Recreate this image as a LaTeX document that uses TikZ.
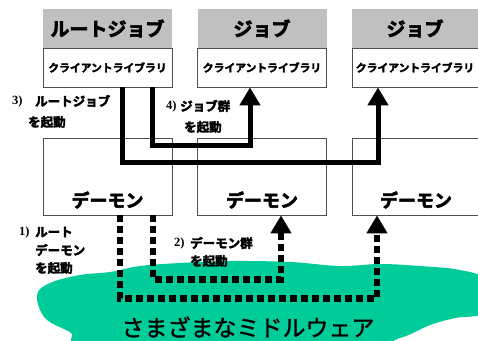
\documentclass[tikz,border=0pt]{standalone}
\usepackage{fontspec}
\setmainfont{Liberation Serif}
\newfontfamily\jp{Noto Sans CJK JP}[FakeBold=1.2]
\newfontfamily\jpk{Noto Sans CJK JP Bold}[FakeBold=3]
\usetikzlibrary{arrows.meta}
\definecolor{mw}{RGB}{0,204,153}
\definecolor{hdr}{RGB}{192,192,192}
\definecolor{bord}{RGB}{80,80,80}
\begin{document}
\begin{tikzpicture}[x=1pt,y=-1pt,
 hdrbox/.style={fill=hdr, minimum width=129pt, minimum height=39pt, inner sep=0pt, font=\jpk\fontsize{19}{19}\selectfont},
 libbox/.style={draw=bord, line width=0.8pt, fill=white, minimum width=129pt, minimum height=39pt, inner sep=0pt, font=\jpk\fontsize{10.8}{11}\selectfont},
 dmbox/.style={draw=bord, line width=0.8pt, fill=white, minimum width=129pt, minimum height=77pt, inner sep=0pt},
 dmtext/.style={font=\jpk\fontsize{18}{18}\selectfont, inner sep=0pt},
 lbl/.style={font=\jpk\fontsize{12.5}{13}\selectfont, inner sep=0pt, anchor=west},
 num/.style={font=\bfseries\fontsize{12.5}{13}\selectfont, inner sep=0pt, anchor=west},
 ctrl/.style={line width=5pt, -{Triangle[width=20pt,length=18pt]}},
 daem/.style={line width=6.5pt, dash pattern=on 7pt off 4pt, -{Triangle[width=20pt,length=18pt]}}
]
\clip (0,0) rectangle (478,340);
\fill[white] (0,0) rectangle (478,340);
% cloud
\fill[mw] plot[smooth cycle, tension=0.6] coordinates {
 (37,295) (50,283) (80,275) (110,272) (140,266) (180,263) (230,261)
 (290,262) (340,266) (380,264) (420,266) (460,270) (485,280) (485,312)
 (455,318) (430,325) (400,338) (350,348) (100,348) (70,332) (45,318)};
% boxes
\node[hdrbox] (h1) at (107.5,28.5) {ルートジョブ};
\node[libbox] (l1) at (107.5,67.5) {クライアントライブラリ};
\node[hdrbox] (h2) at (262,28.5) {ジョブ};
\node[libbox] (l2) at (262,67.5) {クライアントライブラリ};
\node[hdrbox, minimum width=126pt] (h3) at (415,28.5) {ジョブ};
\node[libbox, minimum width=126pt] (l3) at (415,67.5) {クライアントライブラリ};
\node[dmbox] (d1) at (107.5,176.5) {};
\node[dmbox] (d2) at (262,176.5) {};
\node[dmbox, minimum width=126pt] (d3) at (415,176.5) {};
\node[dmtext] (t1) at (107.5,200) {デーモン};
\node[dmtext] (t2) at (262,200) {デーモン};
\node[dmtext] (t3) at (416,200) {デーモン};
% control lines
\draw[ctrl] ([xshift=14.5pt]l1.south) -- ++(0,75) -| ([xshift=-37pt]l3.south);
\draw[ctrl] ([xshift=44.5pt]l1.south) -- ++(0,58) -| ([xshift=-12pt]l2.south);
% daemon lines
\draw[daem] ([xshift=12.5pt]d1.south) -- ++(0,83) -| ([xshift=-38pt]d3.south);
\draw[daem] ([xshift=45.5pt]d1.south) -- ++(0,64) -| ([xshift=19pt]d2.south);
% labels
\node[num] (n3) at (12,101) {3)};
\node[lbl] (a3) at (35,101) {ルートジョブ};
\node[lbl] (b3) at (28,122) {を起動};
\node[num] (n4) at (166,106) {4)};
\node[lbl] (a4) at (180,106) {ジョブ群};
\node[lbl] (b4) at (184,127) {を起動};
\node[num] (n1) at (19,232) {1)};
\node[lbl] (a1) at (35,232) {ルート};
\node[lbl] (b1) at (35,250) {デーモン};
\node[lbl] (c1) at (35,268) {を起動};
\node[num] (n2) at (174,243) {2)};
\node[lbl] (a2) at (190,243) {デーモン群};
\node[lbl] (b2) at (190,261) {を起動};
\node[font=\jp\fontsize{23}{23}\selectfont, inner sep=0pt] (mwt) at (248,327) {さまざまなミドルウェア};
\end{tikzpicture}
\end{document}
